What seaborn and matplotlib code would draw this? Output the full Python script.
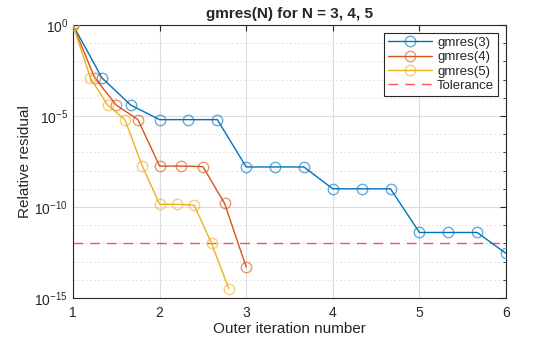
import numpy as np
import pandas as pd
import matplotlib
matplotlib.use("Agg")
import matplotlib.pyplot as plt
import seaborn as sns
from matplotlib.ticker import NullFormatter, FixedLocator

sns.set_style("white")
plt.rcParams['font.family'] = ['Liberation Sans', 'DejaVu Sans']

# data (log10 of relative residual)
x3 = [1, 4/3, 5/3, 2, 7/3, 8/3, 3, 10/3, 11/3, 4, 13/3, 14/3, 5, 16/3, 17/3, 6]
e3 = [0, -2.9, -4.4, -5.2, -5.2, -5.2, -7.8, -7.8, -7.8, -9.0, -9.0, -9.0, -11.4, -11.4, -11.4, -12.55]
x4 = [1, 1.25, 1.5, 1.75, 2, 2.25, 2.5, 2.75, 3]
e4 = [0, -2.9, -4.4, -5.2, -7.75, -7.75, -7.78, -9.8, -13.3]
x5 = [1, 1.2, 1.4, 1.6, 1.8, 2, 2.2, 2.4, 2.6, 2.8]
e5 = [0, -2.9, -4.4, -5.2, -7.75, -9.85, -9.85, -9.9, -12.0, -14.5]
tol = 1e-12
labels = ["gmres(3)", "gmres(4)", "gmres(5)"]
colors = ["#0072BD", "#D95319", "#EDB120"]

fig = plt.figure(figsize=(5.6, 3.37), dpi=100)
ax = fig.add_axes([73/560, 39/337, 433/560, 273/337])

for xs, es, lab, c in zip([x3, x4, x5], [e3, e4, e5], labels, colors):
    df = pd.DataFrame({"x": xs, "r": np.power(10.0, es)})
    sns.lineplot(data=df, x="x", y="r", ax=ax, color=c, lw=1.0, marker="o",
                 markersize=7.5, markerfacecolor="none",
                 markeredgecolor=matplotlib.colors.to_rgba(c, 0.6),
                 markeredgewidth=1.0, label=lab, zorder=3)

ax.axhline(tol, color=(1, 0.2, 0.2, 0.85), ls=(0, (7, 5)), lw=1.0, label="Tolerance", zorder=2)

ax.set_yscale("log")
ax.set_xlim(1, 6)
ax.set_ylim(1e-15, 1e0)
ax.yaxis.set_major_locator(FixedLocator([1e-15, 1e-10, 1e-5, 1e0]))
ax.yaxis.set_minor_locator(FixedLocator([10.0**k for k in range(-15, 1)]))
ax.yaxis.set_minor_formatter(NullFormatter())
ax.set_xticks([1, 2, 3, 4, 5, 6])

ax.grid(True, which="major", color="#dcdcdc", lw=0.8)
ax.grid(True, which="minor", axis="y", color="#d9d9d9", lw=0.6, ls=(0, (2, 3)))
ax.set_axisbelow(True)

for s in ax.spines.values():
    s.set_color("#262626")
    s.set_linewidth(0.8)
    s.set_visible(True)
ax.tick_params(which="both", direction="in", top=True, right=True, colors="#262626",
               labelsize=10, labelcolor="#262626")
ax.tick_params(which="major", length=4)
ax.tick_params(which="minor", length=2.5)
ax.tick_params(axis="x", which="major", pad=6)
ax.tick_params(axis="x", which="minor", bottom=False, top=False)

ax.set_xlabel("Outer iteration number", fontsize=11, color="#262626", labelpad=1)
ax.set_ylabel("Relative residual", fontsize=11, color="#262626", labelpad=2)
ax.set_title("gmres(N) for N = 3, 4, 5", fontsize=11, fontweight="bold", pad=5)

leg = ax.legend(loc="upper right", fontsize=9.5, frameon=True, fancybox=False,
                edgecolor="#262626", framealpha=1, borderpad=0.3, labelspacing=0.15,
                handlelength=3.3, handletextpad=0.4, borderaxespad=0.6)
leg.get_frame().set_linewidth(0.8)

fig.savefig("out.png", dpi=100)
